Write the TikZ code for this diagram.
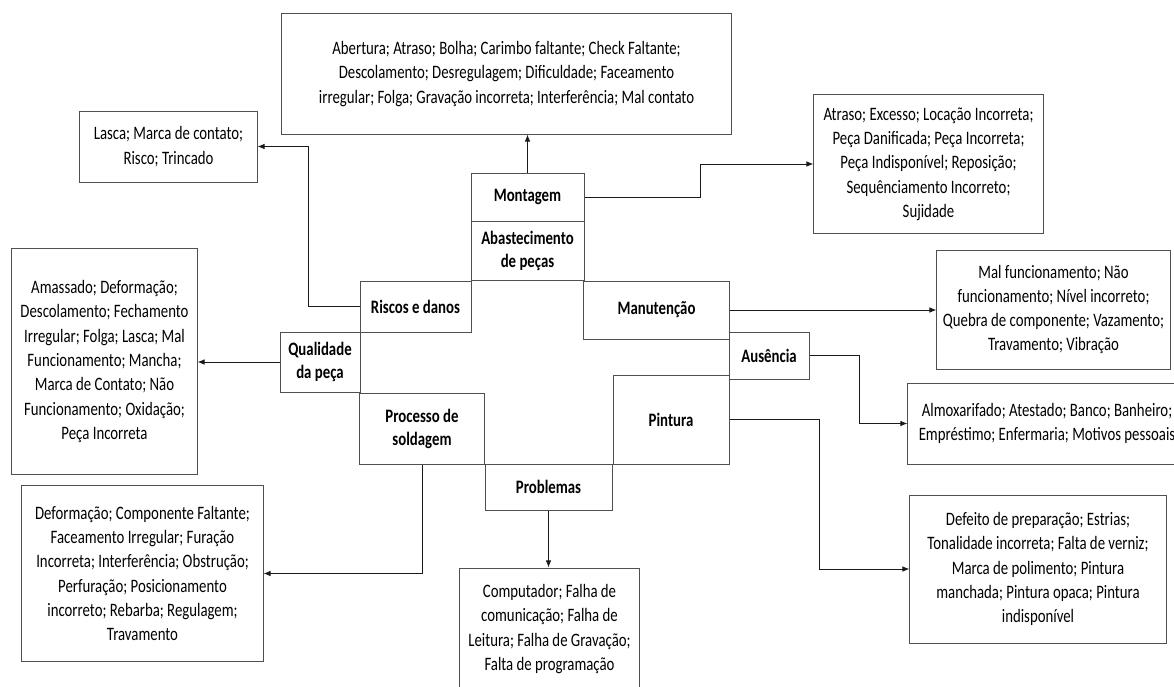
\documentclass[tikz,border=0pt]{standalone}
\usepackage{fontspec}
\setmainfont{Carlito}[FakeStretch=0.78]
\usetikzlibrary{arrows.meta}
\definecolor{boxgray}{HTML}{505050}
\definecolor{linegray}{HTML}{1A1A1A}

\begin{document}
\begin{tikzpicture}[x=0.025cm,y=-0.025cm,font=\fontsize{13.5}{17.3}\selectfont,
  cat/.style={draw=boxgray,line width=.7pt,align=center,inner sep=0pt,font=\fontsize{13.5}{16.4}\selectfont\bfseries},
  lst/.style={draw=boxgray,line width=.7pt,align=center,inner sep=0pt},
  link/.style={draw=linegray,line width=.7pt,-{Latex[length=5pt,width=4pt]}}]
\useasboundingbox (0,0) rectangle (1174,686);
\clip (0,0) rectangle (1174,686);
\node[cat,minimum width=2.825cm,minimum height=1.2cm] (mont) at (527.5,197) {Montagem};
\node[cat,minimum width=2.825cm,minimum height=1.475cm] (abast) at (527.5,250.5) {Abastecimento\\de peças};
\node[cat,minimum width=2.775cm,minimum height=1.275cm] (riscos) at (415.5,306.5) {Riscos e danos};
\node[cat,minimum width=3.625cm,minimum height=1.45cm] (manut) at (656.5,310) {Manutenção};
\node[cat,minimum width=2cm,minimum height=1.5cm] (qual) at (320,362) {Qualidade\\da peça};
\node[cat,minimum width=2cm,minimum height=1.175cm] (ausen) at (769,355.5) {Ausência};
\node[cat,minimum width=2.9cm,minimum height=2.225cm] (pint) at (671,419.5) {Pintura};
\node[cat,minimum width=3.1cm,minimum height=1.775cm] (proc) at (422,428.5) {Processo de\\soldagem};
\node[cat,minimum width=3.175cm,minimum height=1.15cm] (prob) at (548.5,487) {Problemas};

\node[lst,minimum width=11.225cm,minimum height=3cm] (montlist) at (506.5,74)
  {Abertura; Atraso; Bolha; Carimbo faltante; Check Faltante;\\Descolamento; Desregulagem; Dificuldade; Faceamento\\irregular; Folga; Gravação incorreta; Interferência; Mal contato};
\node[lst,minimum width=4.425cm,minimum height=1.775cm] (riscolist) at (168.5,146.5)
  {Lasca; Marca de contato;\\Risco; Trincado};
\node[lst,minimum width=5.725cm,minimum height=3.45cm] (abastlist) at (928.5,164)
  {Atraso; Excesso; Locação Incorreta;\\Peça Danificada; Peça Incorreta;\\Peça Indisponível; Reposição;\\Sequênciamento Incorreto;\\Sujidade};
\node[lst,minimum width=5.825cm,minimum height=2.975cm] (manutlist) at (1053.5,309.5)
  {Mal funcionamento; Não\\funcionamento; Nível incorreto;\\Quebra de componente; Vazamento;\\Travamento; Vibração};
\node[lst,minimum width=4.625cm,minimum height=5.625cm] (qualist) at (104.5,361.5)
  {Amassado; Deformação;\\Descolamento; Fechamento\\Irregular; Folga; Lasca; Mal\\Funcionamento; Mancha;\\Marca de Contato; Não\\Funcionamento; Oxidação;\\Peça Incorreta};
\node[lst,minimum width=6.95cm,minimum height=2.025cm] (ausenlist) at (1047,423.5)
  {Almoxarifado; Atestado; Banco; Banheiro;\\Empréstimo; Enfermaria; Motivos pessoais};
\node[lst,minimum width=4.475cm,minimum height=3.05cm] (problist) at (549.5,629)
  {Computador; Falha de\\comunicação; Falha de\\Leitura; Falha de Gravação;\\Falta de programação};
\node[lst,minimum width=6.025cm,minimum height=4.375cm] (proclist) at (142.5,573.5)
  {Deformação; Componente Faltante;\\Faceamento Irregular; Furação\\Incorreta; Interferência; Obstrução;\\Perfuração; Posicionamento\\incorreto; Rebarba; Regulagem;\\Travamento};
\node[lst,minimum width=6.4cm,minimum height=3.7cm] (pintlist) at (1038,569)
  {Defeito de preparação; Estrias;\\Tonalidade incorreta; Falta de verniz;\\Marca de polimento; Pintura\\manchada; Pintura opaca; Pintura\\indisponível};

\draw[link] (mont.north) -- (mont.north |- montlist.south);
\draw[link] (mont.east) -- ++(116,0) |- (abastlist.west);
\draw[link] (riscos.west) -- ++(-51,0) |- (riscolist.east);
\draw[link] (manut.east) -- (manut.east -| manutlist.west);
\draw[link] (qual.west) -- (qual.west -| qualist.east);
\draw[link] (ausen.east) -- ++(50,0) |- (ausenlist.west);
\draw[link] (pint.east) -- ++(90,0) |- (pintlist.west);
\draw[link] (proc.south) |- (proclist.east);
\draw[link] (prob.south) -- (prob.south |- problist.north);
\end{tikzpicture}
\end{document}
